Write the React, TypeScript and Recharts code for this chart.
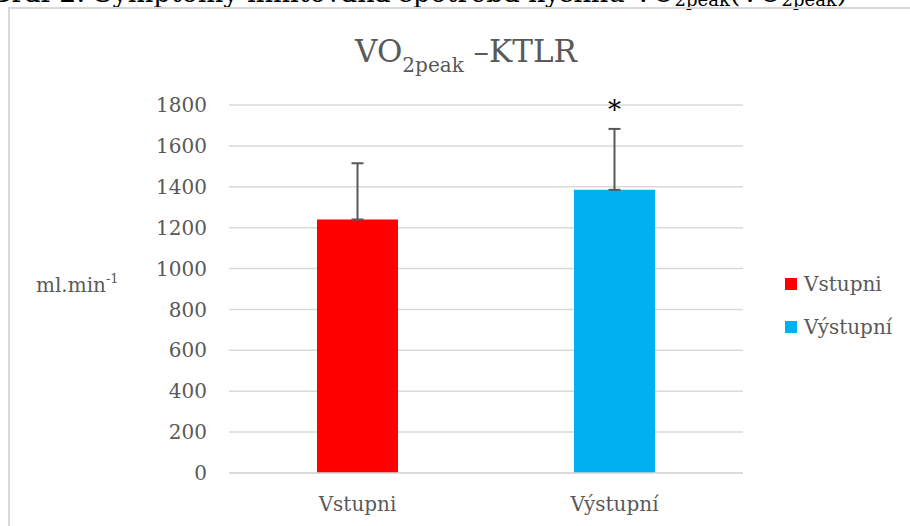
import React from 'react'
import {
  BarChart,
  Bar,
  XAxis,
  YAxis,
  CartesianGrid,
  Cell,
  ErrorBar,
  ReferenceDot,
} from 'recharts'

const CATEGORIES = ['Vstupni', 'Výstupní']
const VALUES = [1240, 1385]
const ERR_UP = [275, 298]
const SIG = ['', '*']
const COLORS = ['#ff0000', '#00b0f0']
const Y_TICKS = [0, 200, 400, 600, 800, 1000, 1200, 1400, 1600, 1800]

const FONT = '"DejaVu Serif", serif'
const GREY = '#595959'

const chartData = CATEGORIES.map((name, i) => ({
  name,
  value: VALUES[i],
  err: [0, ERR_UP[i]],
}))

function YLabel() {
  return (
    <text x={36} y={292} fill={GREY} fontSize={20} fontFamily={FONT}>
      ml.min
      <tspan fontSize={13} dy={-9}>-1</tspan>
    </text>
  )
}

export default function App() {
  return (
    <div
      style={{
        position: 'absolute',
        left: 0,
        top: 0,
        width: 910,
        height: 526,
        overflow: 'hidden',
        background: '#fff',
      }}
    >
      {/* caption from the document, cut off at the top */}
      <svg width={910} height={20} style={{ position: 'absolute', left: 0, top: 0 }}>
        <text x={-10} y={2} fontSize={27} fontFamily={FONT} fill="#000">
          Graf 2: Symptomy limitovaná spotřeba kyslíku VO
          <tspan fontSize={18} dy={4}>2peak</tspan>
          <tspan dy={-4}>(VO</tspan>
          <tspan fontSize={18} dy={4}>2peak</tspan>
          <tspan dy={-4}>)</tspan>
        </text>
      </svg>

      <div
        style={{
          position: 'absolute',
          left: 8,
          top: 7,
          width: 1000,
          height: 600,
          border: '2px solid #d9d9d9',
        }}
      />

      <svg width={910} height={100} style={{ position: 'absolute', left: 0, top: 0 }}>
        <text x={466} y={62} textAnchor="middle" fill={GREY} fontFamily={FONT} fontSize={31}>
          VO
          <tspan fontSize={20} dy={10}>2peak</tspan>
          <tspan dy={-10}> –KTLR</tspan>
        </text>
      </svg>

      <div style={{ position: 'absolute', left: 0, top: 0 }}>
        <BarChart
          width={910}
          height={526}
          data={chartData}
          margin={{ top: 105, right: 167, bottom: 23, left: 0 }}
          barSize={81}
        >
          <CartesianGrid vertical={false} stroke="#d9d9d9" strokeWidth={1.5} />
          <XAxis
            dataKey="name"
            height={30}
            axisLine={{ stroke: '#d9d9d9', strokeWidth: 1.5 }}
            tickLine={false}
            tickSize={0}
            tickMargin={24}
            tick={{ fill: GREY, fontSize: 20, fontFamily: FONT }}
          />
          <YAxis
            width={229}
            domain={[0, 1800]}
            ticks={Y_TICKS}
            interval={0}
            axisLine={false}
            tickLine={false}
            tickSize={0}
            tickMargin={22}
            tick={{ fill: GREY, fontSize: 20, fontFamily: FONT }}
            label={<YLabel />}
          />
          <Bar dataKey="value" isAnimationActive={false}>
            {chartData.map((d, i) => (
              <Cell key={d.name} fill={COLORS[i]} />
            ))}
            <ErrorBar
              dataKey="err"
              direction="y"
              stroke={GREY}
              strokeWidth={2}
              width={6}
              isAnimationActive={false}
            />
          </Bar>
          {SIG.map((s, i) =>
            s ? (
              <ReferenceDot
                key={i}
                x={CATEGORIES[i]}
                y={VALUES[i] + ERR_UP[i] + 95}
                r={0}
                ifOverflow="visible"
                label={{ value: s, position: 'center', fill: '#000', fontSize: 26, fontFamily: FONT }}
              />
            ) : null
          )}
        </BarChart>
      </div>

      {/* legend */}
      <div style={{ position: 'absolute', left: 785, top: 262, fontFamily: FONT, fontSize: 20, color: GREY }}>
        {CATEGORIES.map((c, i) => (
          <div key={c} style={{ display: 'flex', alignItems: 'center', height: 43 }}>
            <span style={{ width: 12, height: 12, background: COLORS[i], marginRight: 7, display: 'inline-block' }} />
            <span>{c}</span>
          </div>
        ))}
      </div>
    </div>
  )
}
